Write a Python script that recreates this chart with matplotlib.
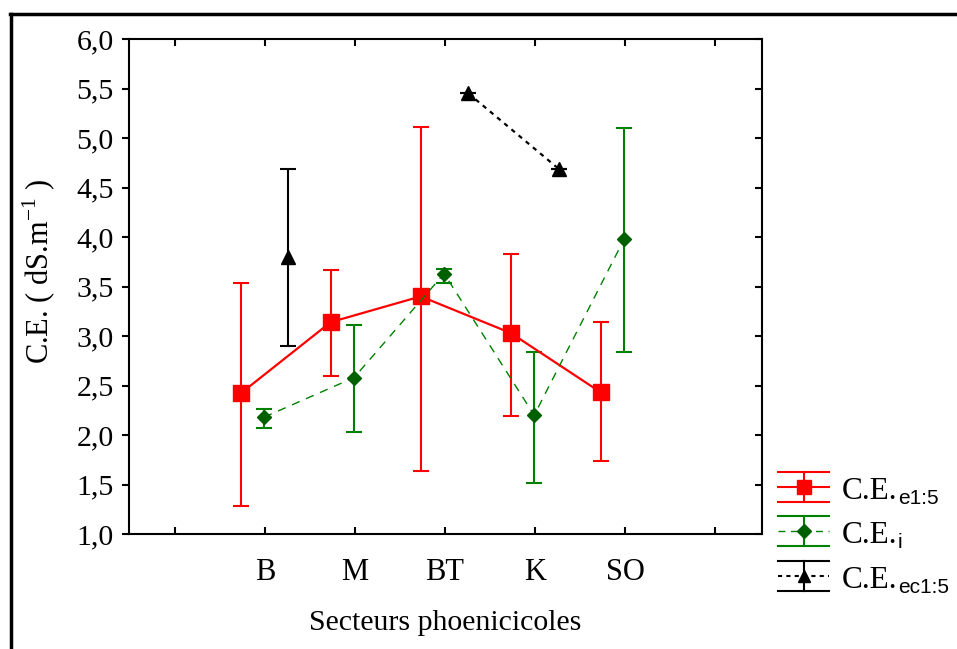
import numpy as np
import matplotlib
matplotlib.use("Agg")
import matplotlib.pyplot as plt
from matplotlib.lines import Line2D
from matplotlib.ticker import FuncFormatter, FixedLocator

plt.rcParams['font.family'] = ['Liberation Serif', 'DejaVu Serif']
plt.rcParams['mathtext.fontset'] = 'custom'
plt.rcParams['mathtext.rm'] = 'Liberation Serif'
plt.rcParams['mathtext.sf'] = 'Liberation Sans'

categories = ['B', 'M', 'BT', 'K', 'SO']

ce_e15 = [2.42, 3.14, 3.40, 3.03, 2.43]
ce_e15_low = [1.28, 2.60, 1.64, 2.19, 1.74]
ce_e15_high = [3.54, 3.67, 5.11, 3.83, 3.14]

ce_i = [2.18, 2.58, 3.63, 2.20, 3.98]
ce_i_low = [2.07, 2.03, 3.54, 1.52, 2.84]
ce_i_high = [2.26, 3.11, 3.68, 2.84, 5.10]

ce_ec15 = [3.80, np.nan, 5.45, 4.69, np.nan]
ce_ec15_low = [2.90, np.nan, 5.45, 4.69, np.nan]
ce_ec15_high = [4.69, np.nan, 5.45, 4.69, np.nan]

W, H = 957, 649
fig = plt.figure(figsize=(W / 100, H / 100), dpi=100)
ax = fig.add_axes([129 / W, 1 - 534 / H, (762 - 129) / W, (534 - 39) / H])

pos = np.arange(1, len(categories) + 1)

def err(v, lo, hi):
    v, lo, hi = map(np.asarray, (v, lo, hi))
    return np.vstack([v - lo, hi - v])

red = '#ff0000'
green = '#008000'
dgreen = '#006000'

ax.errorbar(pos - 0.27, ce_e15, yerr=err(ce_e15, ce_e15_low, ce_e15_high),
            color=red, lw=1.6, marker='s', ms=11, mfc=red, mec=red,
            elinewidth=1.5, capsize=5.5, capthick=1.5, zorder=3)
ax.errorbar(pos - 0.01, ce_i, yerr=err(ce_i, ce_i_low, ce_i_high),
            color=green, lw=1.0, ls=(0, (6, 5)), marker='D', ms=7,
            mfc=dgreen, mec=dgreen, elinewidth=1.5, ecolor=green,
            capsize=5.5, capthick=1.5, zorder=3)
ax.errorbar(pos + 0.26, ce_ec15, yerr=err(ce_ec15, ce_ec15_low, ce_ec15_high),
            color='black', lw=1.6, ls=(0, (2, 2.2)), marker='^', ms=10,
            mfc='black', mec='black', elinewidth=1.5, ecolor='black',
            capsize=5.5, capthick=1.5, zorder=3)

ax.set_xlim(-0.51, 6.52)
ax.set_ylim(1.0, 6.0)
ax.xaxis.set_major_locator(FixedLocator(np.arange(0, 7)))
ax.set_xticklabels([''] + categories + [''])
ax.yaxis.set_major_locator(FixedLocator(np.arange(1.0, 6.01, 0.5)))
ax.yaxis.set_major_formatter(FuncFormatter(lambda v, p: f"{v:.1f}".replace('.', ',')))

for s in ax.spines.values():
    s.set_linewidth(1.5)
ax.tick_params(axis='x', direction='in', top=True, length=5, width=1.5,
               labelsize=22, pad=17)
ax.tick_params(axis='y', which='both', direction='out', length=5, width=1.5,
               labelsize=21.5, pad=6)
ax.tick_params(axis='y', right=True)
for t in ax.yaxis.get_ticklines()[1::2]:
    t.set_marker(matplotlib.lines.TICKLEFT)

ax.set_xlabel('Secteurs phoenicicoles', fontsize=21.5, labelpad=17)
ax.set_ylabel(r'C.E. ( dS.m$^{\mathregular{-1}}$ )', fontsize=22, labelpad=8)
ax.yaxis.set_label_coords(-0.112, 0.53)

# frame lines of the figure (top and left)
fig.add_artist(Line2D([10 / W, 1], [1 - 14 / H, 1 - 14 / H], color='black', lw=2.5,
                      transform=fig.transFigure))
fig.add_artist(Line2D([11 / W, 11 / W], [0, 1 - 14 / H], color='black', lw=2.5,
                      transform=fig.transFigure))

# legend drawn manually
def fx(x):
    return x / W

def fy(y):
    return 1 - y / H

entries = [
    (487, red, red, 's', 10, '-', 1.5, 'e1:5'),
    (531, green, dgreen, 'D', 7, (0, (5, 4)), 1.0, 'i'),
    (576, 'black', 'black', '^', 9, (0, (2, 2)), 1.5, 'ec1:5'),
]
renderer = fig.canvas.get_renderer()
for ymid, col, mcol, mk, ms, ls, lw, sub in entries:
    x0, x1, xc = 778, 829, 803.5
    for yy in (ymid - 15, ymid + 15):
        fig.add_artist(Line2D([fx(x0), fx(x1)], [fy(yy), fy(yy)], color=col, lw=1.5,
                              transform=fig.transFigure))
    fig.add_artist(Line2D([fx(xc), fx(xc)], [fy(ymid - 15), fy(ymid + 15)], color=col,
                          lw=1.5, transform=fig.transFigure))
    fig.add_artist(Line2D([fx(x0), fx(x1)], [fy(ymid), fy(ymid)], color=col, lw=lw,
                          ls=ls, transform=fig.transFigure))
    fig.add_artist(Line2D([fx(xc)], [fy(ymid)], marker=mk, ms=ms, color=mcol,
                          mfc=mcol, mec=mcol, ls='none', transform=fig.transFigure))
    t = fig.text(fx(842), fy(ymid + 12), 'C.E.', fontsize=22.5, ha='left', va='baseline')
    bb = t.get_window_extent(renderer)
    fig.text(bb.x1 / W + 0.0005, fy(ymid + 17), sub, fontsize=15, ha='left',
             va='baseline', family=['Liberation Sans', 'DejaVu Sans'])

fig.savefig('out.png', dpi=100)
